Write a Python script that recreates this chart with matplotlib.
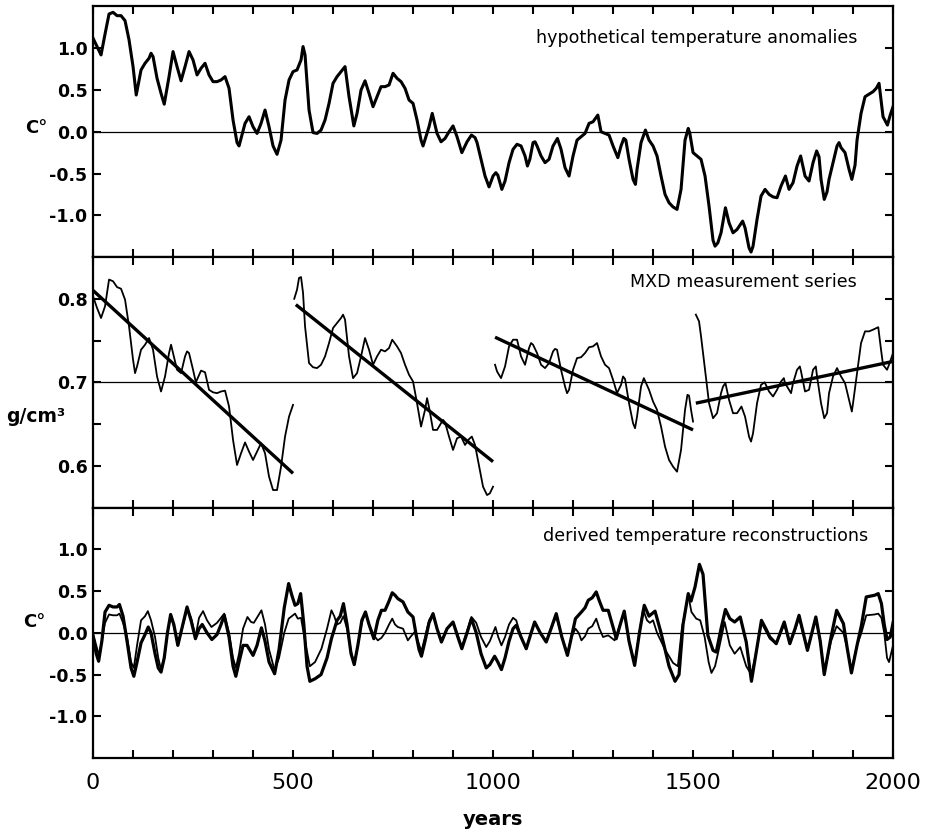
import matplotlib
matplotlib.use("Agg")
import matplotlib.pyplot as plt
from matplotlib.ticker import MultipleLocator

plt.rcParams['font.family'] = ['DejaVu Sans']

# top panel: hypothetical temperature anomalies
anom_years = [0, 10, 20, 30, 40, 50, 60, 70, 80, 90, 100, 108, 120, 130, 140,
              145, 150, 160, 170, 178, 190, 200, 210, 220, 230, 240, 250, 260,
              270, 280, 290, 300, 310, 320, 330, 340, 350, 360, 365, 380, 390,
              400, 410, 420, 430, 440, 450, 460, 470, 480, 490, 500, 510, 520,
              525, 530, 540, 550, 560, 570, 580, 590, 600, 610, 620, 630, 640,
              652, 660, 670, 680, 690, 700, 710, 720, 730, 740, 750, 760, 770,
              780, 790, 800, 810, 820, 825, 840, 848, 860, 870, 880, 890, 900,
              910, 922, 935, 946, 955, 960, 970, 980, 990, 1000, 1007, 1012,
              1022, 1030, 1040, 1050, 1060, 1070, 1080, 1086, 1092, 1100, 1105,
              1110, 1120, 1130, 1140, 1150, 1161, 1170, 1180, 1190, 1200, 1210,
              1220, 1230, 1240, 1250, 1262, 1270, 1280, 1290, 1300, 1312, 1320,
              1327, 1332, 1340, 1350, 1356, 1360, 1370, 1381, 1390, 1400, 1410,
              1420, 1430, 1440, 1450, 1460, 1470, 1480, 1488, 1492, 1500, 1510,
              1520, 1530, 1540, 1550, 1555, 1562, 1570, 1581, 1590, 1600, 1610,
              1624, 1630, 1640, 1645, 1650, 1660, 1670, 1680, 1690, 1700, 1710,
              1720, 1731, 1740, 1750, 1760, 1769, 1780, 1790, 1800, 1809, 1815,
              1820, 1828, 1835, 1840, 1850, 1860, 1865, 1870, 1880, 1890, 1897,
              1905, 1910, 1920, 1930, 1940, 1950, 1958, 1965, 1970, 1975, 1986,
              1993, 2000]
anom_values = [1.12, 1.02, 0.92, 1.17, 1.41, 1.43, 1.39, 1.39, 1.33, 1.10,
               0.78, 0.44, 0.74, 0.82, 0.88, 0.94, 0.90, 0.64, 0.46, 0.33, 0.66,
               0.96, 0.78, 0.61, 0.78, 0.96, 0.86, 0.68, 0.76, 0.82, 0.68, 0.60,
               0.60, 0.62, 0.66, 0.52, 0.14, -0.13, -0.17, 0.10, 0.18, 0.06,
               -0.02, 0.10, 0.26, 0.06, -0.17, -0.27, -0.10, 0.38, 0.62, 0.72,
               0.74, 0.86, 1.02, 0.92, 0.26, -0.01, -0.02, 0.02, 0.14, 0.34,
               0.58, 0.66, 0.72, 0.78, 0.42, 0.07, 0.22, 0.50, 0.61, 0.46, 0.30,
               0.42, 0.54, 0.54, 0.56, 0.70, 0.64, 0.60, 0.52, 0.38, 0.34, 0.14,
               -0.10, -0.17, 0.06, 0.22, -0.02, -0.12, -0.08, 0.00, 0.07, -0.06,
               -0.25, -0.12, -0.04, -0.07, -0.13, -0.33, -0.53, -0.66, -0.53,
               -0.49, -0.52, -0.69, -0.59, -0.37, -0.21, -0.15, -0.17, -0.29,
               -0.41, -0.33, -0.13, -0.12, -0.17, -0.29, -0.37, -0.33, -0.17,
               -0.08, -0.21, -0.43, -0.53, -0.29, -0.10, -0.06, -0.02, 0.10,
               0.12, 0.20, 0.00, -0.02, -0.04, -0.17, -0.31, -0.17, -0.08,
               -0.10, -0.33, -0.57, -0.63, -0.45, -0.13, 0.02, -0.10, -0.17,
               -0.29, -0.53, -0.75, -0.85, -0.90, -0.93, -0.69, -0.10, 0.04,
               -0.02, -0.25, -0.29, -0.33, -0.53, -0.89, -1.30, -1.37, -1.33,
               -1.21, -0.91, -1.09, -1.21, -1.17, -1.07, -1.15, -1.39, -1.44,
               -1.37, -1.05, -0.77, -0.69, -0.75, -0.78, -0.79, -0.65, -0.53,
               -0.69, -0.61, -0.41, -0.29, -0.53, -0.59, -0.37, -0.23, -0.30,
               -0.57, -0.81, -0.72, -0.57, -0.37, -0.17, -0.13, -0.19, -0.25,
               -0.45, -0.57, -0.40, -0.10, 0.22, 0.42, 0.45, 0.48, 0.52, 0.58,
               0.38, 0.18, 0.08, 0.20, 0.30]

# middle panel: four MXD measurement series (g/cm3)
mxd_years = [
    [0, 10, 20, 30, 40, 50, 60, 70, 80, 90, 100, 105, 110, 120, 130, 140, 150,
     160, 170, 180, 190, 195, 200, 210, 220, 230, 235, 240, 250, 257, 270, 280,
     290, 300, 310, 320, 330, 340, 350, 360, 370, 380, 390, 400, 410, 420, 430,
     440, 450, 460, 470, 480, 490, 500],
    [503, 510, 515, 520, 525, 530, 540, 550, 560, 570, 580, 590, 600, 610, 620,
     625, 630, 640, 650, 660, 670, 680, 690, 700, 710, 720, 730, 740, 748, 760,
     770, 780, 790, 800, 810, 820, 830, 835, 840, 850, 860, 870, 875, 880, 890,
     900, 910, 920, 930, 940, 947, 955, 965, 975, 985, 992, 1000],
    [1005, 1010, 1020, 1030, 1040, 1050, 1060, 1070, 1080, 1090, 1095, 1100,
     1110, 1120, 1130, 1140, 1150, 1155, 1160, 1170, 1180, 1185, 1190, 1200,
     1210, 1220, 1230, 1240, 1250, 1260, 1270, 1280, 1290, 1300, 1310, 1320,
     1325, 1330, 1340, 1350, 1355, 1360, 1370, 1377, 1390, 1400, 1410, 1420,
     1430, 1440, 1450, 1460, 1470, 1480, 1486, 1490, 1495, 1500],
    [1507, 1515, 1520, 1530, 1540, 1550, 1560, 1570, 1575, 1581, 1590, 1600,
     1610, 1621, 1630, 1640, 1645, 1650, 1660, 1670, 1679, 1690, 1700, 1710,
     1720, 1727, 1730, 1745, 1750, 1760, 1767, 1770, 1780, 1790, 1800, 1807,
     1810, 1820, 1828, 1835, 1840, 1850, 1860, 1870, 1880, 1890, 1897, 1900,
     1910, 1920, 1930, 1940, 1950, 1963, 1970, 1975, 1985, 1990, 2000],
]
mxd_values = [
    [0.803, 0.789, 0.777, 0.791, 0.823, 0.821, 0.814, 0.812, 0.799, 0.767,
     0.727, 0.711, 0.719, 0.739, 0.745, 0.753, 0.739, 0.707, 0.689, 0.707,
     0.735, 0.745, 0.735, 0.715, 0.711, 0.731, 0.737, 0.735, 0.715, 0.700,
     0.714, 0.712, 0.691, 0.688, 0.687, 0.689, 0.690, 0.671, 0.631, 0.601,
     0.615, 0.628, 0.617, 0.607, 0.617, 0.627, 0.615, 0.587, 0.571, 0.571,
     0.599, 0.635, 0.659, 0.673],
    [0.800, 0.811, 0.825, 0.826, 0.807, 0.767, 0.723, 0.718, 0.717, 0.721,
     0.731, 0.747, 0.765, 0.771, 0.777, 0.781, 0.775, 0.731, 0.705, 0.711,
     0.731, 0.753, 0.739, 0.721, 0.731, 0.739, 0.737, 0.741, 0.751, 0.743,
     0.735, 0.721, 0.709, 0.701, 0.675, 0.647, 0.667, 0.681, 0.670, 0.643,
     0.643, 0.651, 0.655, 0.652, 0.635, 0.619, 0.633, 0.635, 0.625, 0.632,
     0.635, 0.625, 0.600, 0.575, 0.565, 0.567, 0.575],
    [0.721, 0.713, 0.705, 0.719, 0.743, 0.751, 0.751, 0.731, 0.721, 0.741,
     0.747, 0.745, 0.735, 0.721, 0.717, 0.723, 0.737, 0.740, 0.739, 0.715,
     0.695, 0.687, 0.691, 0.715, 0.729, 0.730, 0.735, 0.742, 0.743, 0.747,
     0.731, 0.721, 0.717, 0.703, 0.687, 0.697, 0.707, 0.704, 0.675, 0.651,
     0.645, 0.659, 0.695, 0.705, 0.691, 0.677, 0.667, 0.647, 0.623, 0.607,
     0.599, 0.593, 0.619, 0.667, 0.685, 0.684, 0.667, 0.653],
    [0.781, 0.773, 0.755, 0.715, 0.675, 0.657, 0.663, 0.687, 0.695, 0.699,
     0.679, 0.663, 0.663, 0.671, 0.659, 0.635, 0.629, 0.639, 0.675, 0.697,
     0.700, 0.689, 0.683, 0.691, 0.701, 0.705, 0.699, 0.687, 0.699, 0.715,
     0.719, 0.713, 0.689, 0.691, 0.715, 0.719, 0.707, 0.675, 0.657, 0.663,
     0.687, 0.707, 0.717, 0.707, 0.699, 0.679, 0.665, 0.675, 0.711, 0.747,
     0.761, 0.761, 0.763, 0.766, 0.739, 0.721, 0.715, 0.721, 0.735],
]
# straight trend lines drawn over each series (start, end)
trend_years = [[0, 500], [507, 1000], [1005, 1500], [1507, 2000]]
trend_values = [[0.810, 0.591], [0.793, 0.605], [0.754, 0.643], [0.675, 0.725]]

# bottom panel: two derived reconstructions
recon_a_years = [0, 8, 14, 22, 30, 40, 50, 60, 66, 75, 85, 95, 102, 110, 120,
                 130, 138, 145, 155, 163, 170, 178, 186, 194, 202, 212, 222,
                 235, 245, 256, 265, 273, 285, 297, 310, 320, 328, 340, 350,
                 357, 365, 375, 385, 400, 410, 421, 430, 440, 454, 465, 478,
                 489, 497, 505, 512, 519, 527, 535, 542, 555, 570, 585, 596,
                 610, 618, 626, 635, 645, 653, 662, 672, 681, 690, 702, 712,
                 721, 730, 740, 748, 755, 762, 775, 787, 800, 808, 815, 821,
                 830, 840, 850, 860, 871, 885, 900, 912, 922, 935, 946, 958,
                 970, 983, 992, 1004, 1012, 1021, 1030, 1040, 1050, 1058, 1070,
                 1083, 1094, 1104, 1118, 1133, 1145, 1158, 1172, 1186, 1196,
                 1206, 1221, 1230, 1238, 1248, 1258, 1266, 1275, 1288, 1300,
                 1308, 1318, 1328, 1340, 1354, 1366, 1378, 1390, 1405, 1420,
                 1440, 1455, 1465, 1475, 1488, 1495, 1505, 1516, 1525, 1537,
                 1550, 1558, 1570, 1581, 1592, 1604, 1618, 1633, 1646, 1658,
                 1671, 1682, 1692, 1708, 1728, 1742, 1755, 1765, 1786, 1807,
                 1818, 1828, 1845, 1859, 1876, 1886, 1896, 1910, 1921, 1933,
                 1954, 1963, 1971, 1978, 1985, 1993, 2000]
recon_a = [-0.05, -0.25, -0.34, -0.10, 0.25, 0.33, 0.31, 0.31, 0.34, 0.20,
           -0.10, -0.42, -0.52, -0.35, -0.12, -0.02, 0.07, 0.00, -0.25, -0.42,
           -0.47, -0.30, 0.00, 0.22, 0.10, -0.15, 0.05, 0.31, 0.15, -0.07,
           0.05, 0.10, 0.00, -0.08, -0.02, 0.10, 0.21, -0.05, -0.40, -0.52,
           -0.35, -0.15, -0.15, -0.27, -0.15, 0.06, -0.10, -0.35, -0.49,
           -0.20, 0.30, 0.59, 0.45, 0.33, 0.35, 0.47, 0.10, -0.40, -0.58,
           -0.55, -0.50, -0.30, -0.07, 0.15, 0.20, 0.35, 0.10, -0.25, -0.38,
           -0.15, 0.15, 0.25, 0.10, -0.07, 0.15, 0.27, 0.27, 0.38, 0.48, 0.45,
           0.41, 0.37, 0.25, 0.19, -0.03, -0.20, -0.28, -0.10, 0.12, 0.23,
           0.05, -0.11, 0.05, 0.13, -0.05, -0.19, 0.00, 0.17, 0.00, -0.25,
           -0.42, -0.38, -0.28, -0.35, -0.44, -0.30, -0.10, 0.05, 0.09, -0.05,
           -0.19, -0.02, 0.13, 0.00, -0.11, 0.05, 0.23, -0.05, -0.27, -0.05,
           0.17, 0.25, 0.30, 0.39, 0.42, 0.49, 0.38, 0.27, 0.27, 0.07, -0.07,
           0.10, 0.26, -0.10, -0.39, 0.00, 0.33, 0.20, 0.26, 0.00, -0.40,
           -0.58, -0.50, 0.10, 0.47, 0.38, 0.55, 0.82, 0.70, -0.03, -0.21,
           -0.23, 0.05, 0.28, 0.17, 0.13, 0.19, -0.11, -0.58, -0.23, 0.15,
           0.05, -0.05, -0.13, 0.13, -0.13, 0.05, 0.21, -0.21, 0.19, -0.10,
           -0.50, -0.05, 0.27, 0.11, -0.20, -0.48, -0.15, 0.09, 0.43, 0.45,
           0.47, 0.35, 0.10, -0.08, -0.05, 0.12]

recon_b_years = [0, 8, 15, 22, 30, 40, 50, 60, 66, 75, 85, 95, 102, 110, 120,
                 130, 137, 145, 155, 163, 170, 178, 186, 194, 202, 212, 222,
                 235, 245, 256, 265, 275, 285, 296, 310, 320, 328, 340, 350,
                 357, 365, 375, 386, 395, 402, 412, 421, 430, 440, 454, 465,
                 478, 489, 497, 505, 512, 520, 530, 542, 555, 571, 585, 596,
                 603, 610, 618, 626, 635, 645, 653, 662, 672, 681, 690, 702,
                 712, 721, 730, 740, 748, 755, 762, 775, 787, 795, 804, 812,
                 821, 830, 840, 850, 860, 871, 885, 900, 912, 922, 935, 946,
                 958, 970, 983, 992, 1006, 1013, 1021, 1030, 1040, 1050, 1058,
                 1070, 1083, 1094, 1104, 1118, 1133, 1145, 1158, 1172, 1186,
                 1196, 1206, 1214, 1221, 1230, 1238, 1248, 1258, 1266, 1275,
                 1288, 1304, 1318, 1328, 1340, 1354, 1366, 1375, 1385, 1392,
                 1400, 1410, 1430, 1450, 1462, 1472, 1488, 1496, 1508, 1518,
                 1529, 1539, 1546, 1555, 1563, 1579, 1592, 1604, 1618, 1633,
                 1646, 1658, 1671, 1682, 1692, 1708, 1728, 1742, 1755, 1765,
                 1786, 1807, 1818, 1828, 1845, 1859, 1876, 1886, 1896, 1910,
                 1921, 1933, 1954, 1963, 1971, 1978, 1985, 1990, 2000]
recon_b = [0.00, -0.15, -0.27, -0.10, 0.12, 0.22, 0.21, 0.21, 0.23, 0.12,
           -0.05, -0.35, -0.42, -0.15, 0.15, 0.20, 0.26, 0.15, -0.05, -0.30,
           -0.44, -0.30, 0.00, 0.20, 0.08, -0.15, 0.05, 0.28, 0.18, -0.05,
           0.18, 0.26, 0.15, 0.07, 0.12, 0.18, 0.23, 0.00, -0.30, -0.42,
           -0.25, 0.05, 0.19, 0.13, 0.12, 0.20, 0.27, 0.10, -0.20, -0.45,
           -0.30, 0.00, 0.17, 0.20, 0.23, 0.17, 0.18, -0.10, -0.40, -0.35,
           -0.19, 0.05, 0.27, 0.20, 0.10, 0.12, 0.20, 0.05, -0.22, -0.38,
           -0.15, 0.12, 0.25, 0.10, -0.03, -0.09, -0.06, 0.00, 0.10, 0.17,
           0.10, 0.07, 0.05, -0.09, -0.04, 0.01, -0.10, -0.22, -0.05, 0.15,
           0.23, 0.05, -0.10, 0.05, 0.13, -0.03, -0.17, 0.02, 0.19, 0.12,
           -0.05, -0.17, -0.10, 0.07, -0.05, -0.15, -0.05, 0.10, 0.18, 0.15,
           -0.05, -0.19, -0.02, 0.13, 0.00, -0.11, 0.05, 0.20, -0.05, -0.25,
           -0.05, 0.05, 0.00, -0.09, -0.04, 0.05, 0.08, 0.17, 0.05, -0.05,
           -0.03, -0.09, 0.10, 0.24, -0.10, -0.37, 0.00, 0.28, 0.15, 0.12,
           0.15, 0.00, -0.20, -0.36, -0.40, 0.05, 0.45, 0.25, 0.17, 0.15,
           -0.05, -0.35, -0.48, -0.40, -0.23, 0.13, -0.15, -0.25, -0.17,
           -0.40, -0.50, -0.23, 0.12, 0.02, -0.07, -0.13, 0.10, -0.13, 0.03,
           0.18, -0.21, 0.17, -0.10, -0.48, -0.10, 0.08, 0.00, -0.20, -0.45,
           -0.15, 0.00, 0.21, 0.22, 0.23, 0.18, 0.00, -0.30, -0.35, -0.15]

temp_ticks = [-1.0, -0.5, 0.0, 0.5, 1.0]
temp_labels = ['-1.0', '-0.5', '0.0', '0.5', '1.0']
mxd_ticks = [0.6, 0.65, 0.7, 0.75, 0.8]
mxd_labels = ['0.6', '', '0.7', '', '0.8']
year_ticks = [0, 500, 1000, 1500, 2000]


def style_axis(ax):
    """
Frame, inward ticks on all four sides.
"""
    for side in ax.spines.values():
        side.set_linewidth(1.6)
    ax.set_xlim(0, 2000)
    ax.xaxis.set_minor_locator(MultipleLocator(100))
    ax.set_xticks(year_ticks)
    ax.tick_params(which='both', direction='in', top=True, right=True,
                   length=6, width=1.5)
    ax.tick_params(axis='y', labelsize=12.5, pad=4)


def main():
    """
Draws the three stacked panels and saves out.png.
"""
    fig = plt.figure(figsize=(9.36, 8.31), dpi=100)
    left, width, h = 0.0994, 0.8547, 0.3015
    ax1 = fig.add_axes([left, 0.9922 - h, width, h])
    ax2 = fig.add_axes([left, 0.9922 - 2 * h, width, h])
    ax3 = fig.add_axes([left, 0.9922 - 3 * h, width, h])

    # top
    ax1.plot(anom_years, anom_values, color='black', lw=2.2,
             solid_joinstyle='round')
    ax1.axhline(0, color='black', lw=0.9)
    ax1.set_ylim(-1.5, 1.5)
    ax1.set_yticks(temp_ticks)
    ax1.set_yticklabels(temp_labels, fontweight='bold')
    ax1.text(0.956, 0.876, 'hypothetical temperature anomalies',
             transform=ax1.transAxes, ha='right', va='center', fontsize=12.6)

    # middle
    for yrs, vals in zip(mxd_years, mxd_values):
        ax2.plot(yrs, vals, color='black', lw=1.3)
    for yrs, vals in zip(trend_years, trend_values):
        ax2.plot(yrs, vals, color='black', lw=2.4, solid_capstyle='butt')
    ax2.axhline(0.7, color='black', lw=0.9)
    ax2.set_ylim(0.55, 0.85)
    ax2.set_yticks(mxd_ticks)
    ax2.set_yticklabels(mxd_labels, fontweight='bold')
    ax2.text(0.955, 0.9, 'MXD measurement series',
             transform=ax2.transAxes, ha='right', va='center', fontsize=12.6)

    # bottom
    ax3.plot(recon_b_years, recon_b, color='black', lw=1.3)
    ax3.plot(recon_a_years, recon_a, color='black', lw=2.3,
             solid_joinstyle='round')
    ax3.axhline(0, color='black', lw=0.9)
    ax3.set_ylim(-1.5, 1.5)
    ax3.set_yticks(temp_ticks)
    ax3.set_yticklabels(temp_labels, fontweight='bold')
    ax3.text(0.969, 0.888, 'derived temperature reconstructions',
             transform=ax3.transAxes, ha='right', va='center', fontsize=12.6)

    for ax in (ax1, ax2, ax3):
        style_axis(ax)
    ax1.tick_params(axis='x', labelbottom=False)
    ax2.tick_params(axis='x', labelbottom=False)
    ax3.set_xticklabels([str(t) for t in year_ticks])
    ax3.tick_params(axis='x', labelsize=16, pad=11)
    ax3.set_xlabel('years', fontsize=14, fontweight='bold', labelpad=12)

    fig.text(48 / 936, 1 - 128 / 831, 'C°', ha='right', va='center',
             fontsize=13, fontweight='bold')
    fig.text(36 / 936, 1 - 417 / 831, 'g/cm³', ha='center', va='center',
             fontsize=13.5, fontweight='bold')
    fig.text(45 / 936, 1 - 622 / 831, 'C°', ha='right', va='center',
             fontsize=13, fontweight='bold')

    fig.savefig('out.png', dpi=100)


if __name__ == "__main__":
    main()
